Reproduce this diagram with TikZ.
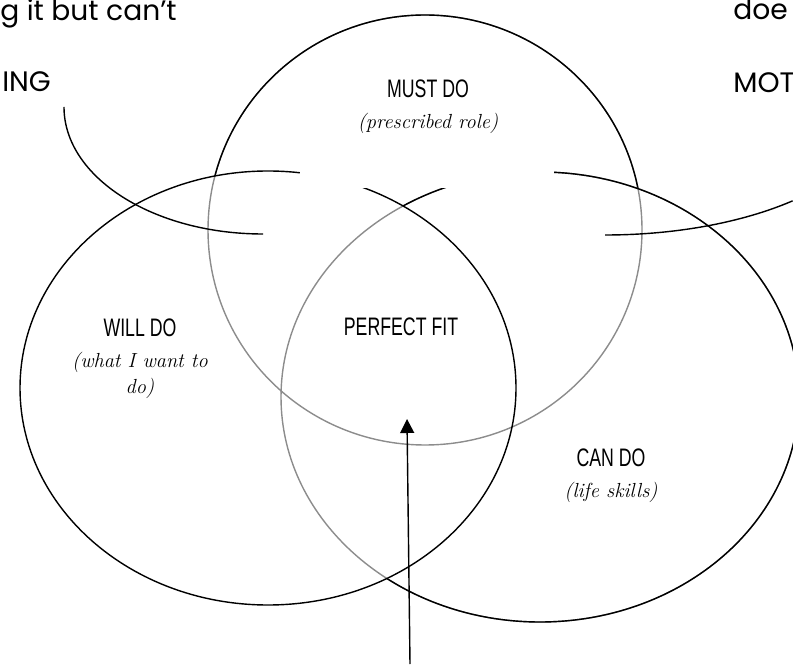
\documentclass[tikz,border=0pt]{standalone}
\usepackage{fontspec}
\usetikzlibrary{arrows.meta}
\newfontfamily\gothfont{Poppins}
\newfontfamily\handcaps[FakeStretch=0.7]{Liberation Sans}
\newcommand{\hcaps}[1]{{\handcaps\upshape\fontsize{18}{18}\selectfont #1}}

\begin{document}
\begin{tikzpicture}[x=0.025cm,y=0.025cm,
  ring/.style={line width=1pt},
  faint/.style={line width=1pt,draw=black!45},
  circlab/.style={align=center,inner sep=0pt,font=\fontsize{14.5}{18.5}\selectfont\itshape},
  edgetext/.style={anchor=base west,inner sep=0pt,font=\gothfont\fontsize{20}{24}\selectfont}]
  \useasboundingbox (0,0) rectangle (793,664);
  \def\mustring{(425,434) ellipse [x radius=217, y radius=215]}
  \def\willring{(268,276) ellipse [x radius=248, y radius=217]}
  \def\canring{(540,267) ellipse [x radius=259, y radius=225]}
  % must do: grey where the other two lie over it
  \draw[faint] \mustring;
  \begin{scope}[even odd rule]
    \clip (-100,-100) rectangle (900,800) \willring;
    \clip (-100,-100) rectangle (900,800) \canring;
    \draw[ring] \mustring;
  \end{scope}
  % can do: grey under will do
  \draw[faint] \canring;
  \begin{scope}[even odd rule]
    \clip (-100,-100) rectangle (900,800) \willring;
    \draw[ring] \canring;
  \end{scope}
  \draw[ring] \willring;
  \fill[white] (300,476) rectangle (554,514);

  \node[circlab] (must) at (428,557) {\hcaps{MUST DO}\\[3.5pt](prescribed role)};
  \node[circlab] (will) at (140,305) {\hcaps{WILL DO}\\[3.5pt](what I want to\\do)};
  \node[circlab] (can) at (611,188) {\hcaps{CAN DO}\\[3.5pt](life skills)};
  \node[circlab] (fit) at (401,337) {\hcaps{PERFECT FIT}};

  \node[edgetext] (cant) at (0,643) {g it but can’t};
  \node[edgetext] (ing) at (2,572) {ING};
  \node[edgetext] (doe) at (733,644) {doe};
  \node[edgetext] (mot) at (733,571) {MOT};

  \coordinate (ingend) at (64,557);
  \draw[ring] (ingend) arc[start angle=180,end angle=270,x radius=199,y radius=127];
  \coordinate (motend) at (605,429);
  \draw[ring] (motend) arc[start angle=270,end angle=313,x radius=275,y radius=127];

  \coordinate (foot) at (410,0);
  \coordinate (aim) at (407,245);
  \draw[ring,-{Triangle[length=0.35cm,width=0.35cm]}] (foot) -- (aim);
\end{tikzpicture}
\end{document}
